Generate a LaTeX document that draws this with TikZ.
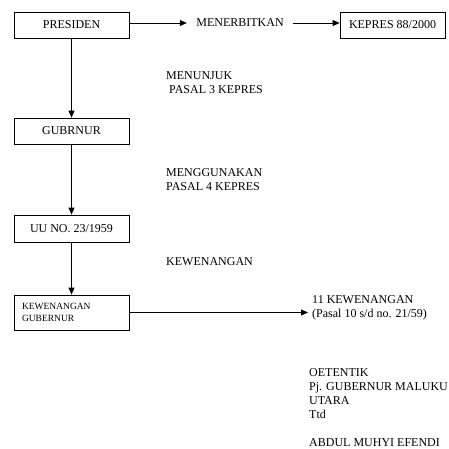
\documentclass[tikz,border=0pt]{standalone}
\usepackage{fontspec}
\setmainfont{Liberation Serif}
\usetikzlibrary{arrows.meta}
\begin{document}
\begin{tikzpicture}[x=1pt,y=-1pt,
  every node/.style={font=\fontsize{12}{14}\selectfont},
  box/.style={draw,line width=0.8pt,minimum width=115pt,minimum height=26pt,inner sep=0pt},
  lbl/.style={anchor=west,inner sep=0pt,align=left},
  arr/.style={line width=0.8pt,-{Triangle[length=7pt,width=6pt]}}]
\useasboundingbox (0,0) rectangle (449,449);
\node[box] (pres) at (71.5,25) {PRESIDEN};
\node[box,minimum width=105pt] (kep) at (392.5,25) {KEPRES 88/2000};
\node[inner sep=0pt,minimum width=106pt,text height=7.9pt,text depth=0pt] (men) at (240,23) {MENERBITKAN};
\node[box] (gub) at (71.5,131) {GUBRNUR};
\node[box,minimum height=27pt] (uu) at (71.5,228.5) {UU NO. 23/1959};
\node[box,minimum height=35pt,text width=99pt,inner xsep=8pt,align=left,
      font=\fontsize{9.5}{12.5}\selectfont] (kg) at (71.5,312.5) {KEWENANGAN\\GUBERNUR};
\node[lbl] (l1) at (166,83) {MENUNJUK\\\ PASAL 3 KEPRES};
\node[lbl] (l2) at (166,180) {MENGGUNAKAN\\PASAL 4 KEPRES};
\node[lbl] (l3) at (166,262) {KEWENANGAN};
\node[lbl] (k11) at (312,308) {11 KEWENANGAN\\(Pasal 10 s/d no. 21/59)};
\node[lbl,anchor=north west] (sig) at (309,368) {OETENTIK\\Pj. GUBERNUR MALUKU\\UTARA\\Ttd\\[14pt]ABDUL MUHYI EFENDI};
\draw[arr] (pres.east |- men.west) -- (men.west);
\draw[arr] (men.east) -- (kep.west |- men.east);
\draw[arr] (pres) -- (gub);
\draw[arr] (gub) -- (uu);
\draw[arr] (uu) -- (kg);
\draw[arr] (kg.east) -- ([xshift=-4pt]kg.east -| k11.west);
\end{tikzpicture}
\end{document}
